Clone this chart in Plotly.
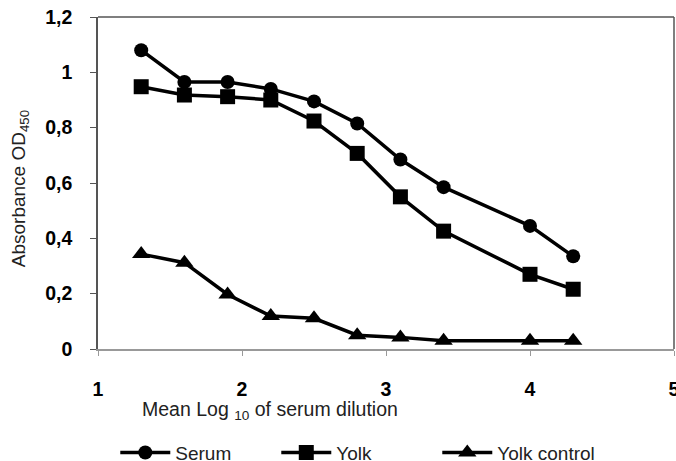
import plotly.graph_objects as go

dilution = [1.3, 1.6, 1.9, 2.2, 2.5, 2.8, 3.1, 3.4, 4.0, 4.3]
serum = [1.08, 0.965, 0.965, 0.94, 0.895, 0.815, 0.685, 0.585, 0.445, 0.335]
yolk = [0.948, 0.918, 0.912, 0.90, 0.824, 0.707, 0.55, 0.426, 0.27, 0.216]
yolk_control = [0.343, 0.312, 0.197, 0.119, 0.111, 0.05, 0.042, 0.03, 0.03, 0.03]

x_ticks = [1, 2, 3, 4, 5]
y_ticks = [0, 0.2, 0.4, 0.6, 0.8, 1.0, 1.2]

FONT = "Liberation Sans, Arial, sans-serif"

fig = go.Figure()
series = [("Serum", serum, "circle", 14), ("Yolk", yolk, "square", 15),
          ("Yolk control", yolk_control, "triangle-up", 16)]
for name, vals, sym, sz in series:
    fig.add_trace(go.Scatter(
        x=dilution, y=vals, name=name, mode="lines+markers",
        line=dict(color="black", width=3.5),
        marker=dict(symbol=sym, size=sz, color="black"),
    ))

fig.update_layout(
    width=676, height=461,
    margin=dict(l=98, r=2, t=17, b=112, autoexpand=False),
    paper_bgcolor="white", plot_bgcolor="white",
    separators=", ",
    font=dict(family=FONT, color="black"),
    showlegend=True,
    legend=dict(orientation="h", x=0.03, xanchor="left", y=-0.255, yanchor="top",
                font=dict(size=19, color="#222"), entrywidth=96,
                entrywidthmode="pixels", itemwidth=50, bgcolor="rgba(0,0,0,0)"),
    shapes=[
        dict(type="line", xref="paper", yref="paper", x0=0, x1=1, y0=1, y1=1,
             line=dict(color="#555", width=1.5)),
        dict(type="line", xref="paper", yref="paper", x0=1, x1=1, y0=0, y1=1,
             line=dict(color="#555", width=1.5)),
    ],
    annotations=[
        dict(text="Mean Log <sub>10</sub> of serum dilution", xref="paper", yref="paper",
             x=0.073, y=-0.185, xanchor="left", yanchor="middle", showarrow=False,
             font=dict(size=19.5, color="#222")),
        dict(text="Absorbance OD<sub>450</sub>", xref="paper", yref="paper",
             x=-0.135, y=0.482, xanchor="center", yanchor="middle", textangle=-90,
             showarrow=False, font=dict(size=19, color="#222")),
    ],
)
fig.update_xaxes(range=[1, 5], tickvals=x_ticks, ticks="outside", ticklen=5,
                 tickcolor="#999", showline=True, linecolor="#999", linewidth=1.5,
                 showgrid=False, zeroline=False, ticklabelstandoff=17,
                 ticklabeloverflow="allow",
                 tickfont=dict(size=19.5, family=FONT, weight="bold"))
fig.update_yaxes(range=[0, 1.2], tickvals=y_ticks, ticks="outside", ticklen=6,
                 tickcolor="#555", showline=True, linecolor="#555", linewidth=1.5,
                 showgrid=False, zeroline=False, ticklabelstandoff=14,
                 tickfont=dict(size=19.5, family=FONT, weight="bold"))

fig.write_html("out.html")
